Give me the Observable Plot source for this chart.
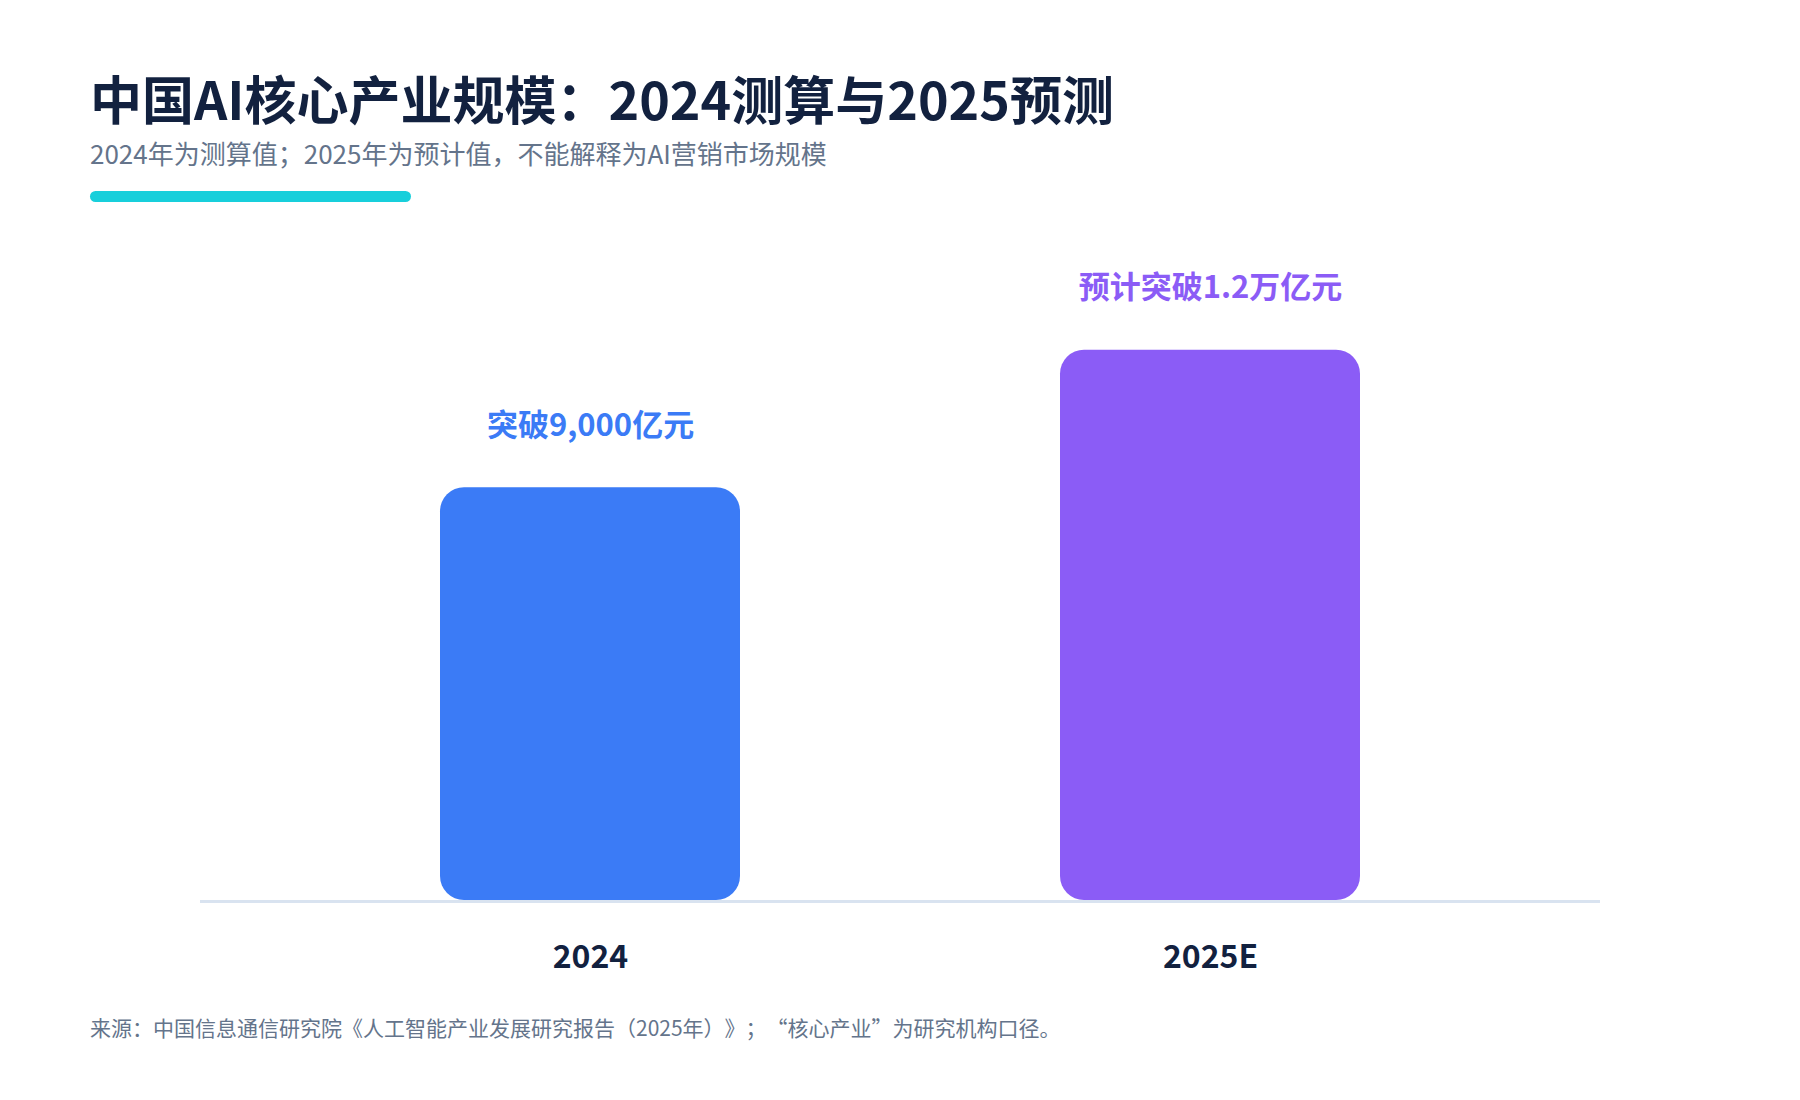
<!DOCTYPE html>
<html>
<head>
<meta charset="utf-8">
<script src="https://cdn.jsdelivr.net/npm/d3@7"></script>
<script src="https://cdn.jsdelivr.net/npm/@observablehq/plot@0.6"></script>
<style>
  html, body { margin: 0; padding: 0; background: #ffffff; }
  body { width: 1800px; height: 1100px; position: relative; overflow: hidden;
         font-family: "Noto Sans CJK SC", "Noto Sans", sans-serif; text-spacing-trim: space-all; }
  .title { position: absolute; left: 90px; top: 72px; font-size: 52px; line-height: 1;
           font-weight: 700; color: #12213f; white-space: nowrap; }
  .subtitle { position: absolute; left: 90px; top: 140px; font-size: 26px; line-height: 1;
              font-weight: 400; color: #64748b; white-space: nowrap; }
  .accent { position: absolute; left: 90px; top: 191px; width: 321px; height: 11px;
            border-radius: 6px; background: #18cfdb; }
  #chart { position: absolute; left: 0; top: 220px; width: 1800px; height: 780px; }
  .caption { position: absolute; left: 90px; top: 1017px; font-size: 21px; line-height: 1;
             font-weight: 400; color: #64748b; white-space: nowrap; }
</style>
</head>
<body>
<div class="title">中国AI核心产业规模：2024测算与2025预测</div>
<div class="subtitle">2024年为测算值；2025年为预计值，不能解释为AI营销市场规模</div>
<div class="accent"></div>
<div id="chart"></div>
<div class="caption">来源：中国信息通信研究院《人工智能产业发展研究报告（2025年）》；“核心产业”为研究机构口径。</div>
<script>
// Data
const years = ["2024", "2025E"];
const values = [9000, 12000];           // 亿元
const valueLabels = ["突破9,000亿元", "预计突破1.2万亿元"];
const barColors = ["#3b7bf6", "#8b5cf6"];

const data = years.map((y, i) => ({ year: y, value: values[i], label: valueLabels[i] }));

const chart = Plot.plot({
  width: 1800,
  height: 780,
  marginLeft: 200,
  marginRight: 200,
  marginTop: 38,
  marginBottom: 100,
  style: { fontFamily: "'Noto Sans CJK SC', 'Noto Sans', sans-serif", background: "transparent", overflow: "visible" },
  x: { domain: years, paddingInner: 0.516, paddingOuter: 0.387, label: null, axis: null },
  y: { domain: [0, 14000], axis: null },
  color: { domain: years, range: barColors },
  marks: [
    Plot.barY(data, { x: "year", y: "value", fill: "year", rx: 24 }),
    Plot.ruleY([0], { stroke: "#d9e3f0", strokeWidth: 3, dy: 1 }),
    Plot.text(data, { x: "year", y: "value", text: "label", fill: "year",
                      dy: -62, fontSize: 31, fontWeight: 700, lineAnchor: "middle" }),
    Plot.axisX({ tickSize: 0, tickPadding: 45, fontSize: 32, fontWeight: 700,
                 color: "#12213f", label: null })
  ]
});
document.getElementById("chart").appendChild(chart);
</script>
</body>
</html>
